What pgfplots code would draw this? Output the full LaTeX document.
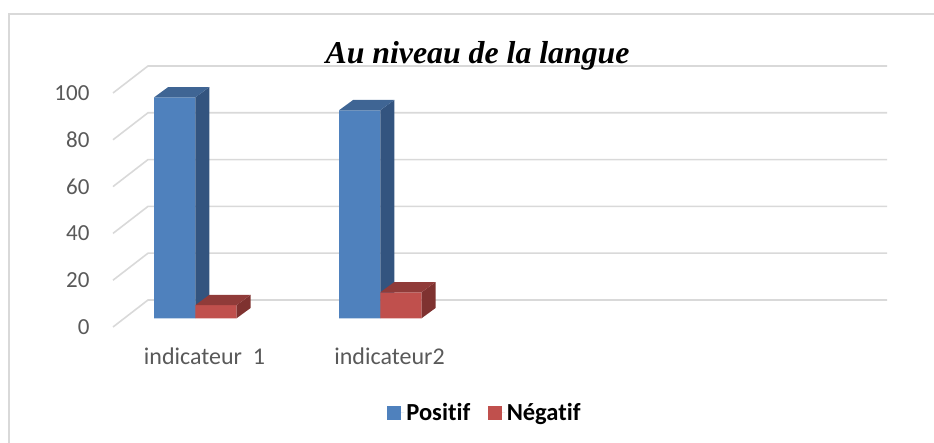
\documentclass[border=0pt]{standalone}
\usepackage{fontspec}
\setmainfont{Carlito}[Ligatures=NoCommon]
\newfontfamily\titlefont{Liberation Serif}
\usepackage{pgfplots}
\usepackage{pgfplotstable}
\pgfplotsset{compat=1.18}

\definecolor{blueF}{HTML}{4F81BD}
\definecolor{blueS}{HTML}{33547F}
\definecolor{blueT}{HTML}{3F6594}
\definecolor{redF}{HTML}{C0504D}
\definecolor{redS}{HTML}{7F3230}
\definecolor{redT}{HTML}{903B39}
\definecolor{gridc}{HTML}{D9D9D9}
\definecolor{labelc}{HTML}{595959}

\pgfplotstableread{
idx Positif Negatif
0   94.4    5.6
1   88.9    11.1
}\niveau

\begin{document}
\begin{tikzpicture}[x=1pt,y=1pt]
    \path[use as bounding box] (0,0) rectangle (934,443);
    % chart frame: only top and left edges show
    \draw[gridc, line width=1.5pt] (9,0) -- (9,429) -- (934,429);
    \begin{axis}[
        at={(113pt,98pt)}, anchor=south west,
        scale only axis,
        width=774pt, height=285pt,
        xmin=-0.4449, xmax=3.739,
        ymin=-11.41, ymax=110.38,
        clip=false,
        axis line style={draw=none},
        major tick length=0pt,
        xtick={0.05,1.05},
        xticklabels={indicateur\ \ 1,indicateur2},
        ytick={-3.72,16.28,36.28,56.28,76.28,96.28},
        yticklabels={0,20,40,60,80,100},
        tick label style={text=labelc},
        yticklabel style={font=\fontsize{23}{23}\selectfont, anchor=east, xshift=-20pt},
        xticklabel style={font=\fontsize{24}{24}\selectfont, anchor=center, yshift=-11pt},
        title={\titlefont\bfseries\itshape\fontsize{31.8}{32}\selectfont Au niveau de la langue},
        title style={at={(0.471,0.966)}, anchor=base, inner sep=0pt},
        legend columns=2,
        legend style={at={(0.4806,-0.2386)}, anchor=center, draw=none, fill=none,
            font=\bfseries\fontsize{24.5}{24.5}\selectfont,
            /tikz/every even column/.append style={column sep=15.5pt}},
        legend image code/.code={
            \fill[#1] (0pt,-7pt) rectangle (14pt,7pt);
            \path (0pt,0pt) -- (17pt,0pt);
        },
    ]
        % walls: back grid with the slanted run to the front
        \pgfplotsinvokeforeach{0,20,40,60,80,100}{
            \draw[gridc, line width=1.6pt]
                (axis cs:-0.4449,#1-3.72) -- (axis cs:-0.2557,#1+7.82) -- (axis cs:3.739,#1+7.82);
        }

        % Positif
        \addplot[ybar, bar width=0.223, bar shift=-0.1115, fill=blueF, draw=none] table[x=idx, y=Positif] {\niveau};
        \addlegendentry{Positif}
        \addplot[fill=blueS, draw=none, forget plot] coordinates {(0,94.4) (0.0757,98.8) (0.0757,4.4) (0,0)};
        \addplot[fill=blueT, draw=none, forget plot] coordinates {(-0.223,94.4) (-0.147,98.8) (0.0757,98.8) (0,94.4)};
        \addplot[fill=blueS, draw=none, forget plot] coordinates {(1,88.9) (1.0757,93.3) (1.0757,4.4) (1,0)};
        \addplot[fill=blueT, draw=none, forget plot] coordinates {(0.777,88.9) (0.853,93.3) (1.0757,93.3) (1,88.9)};

        % Negatif
        \addplot[ybar, bar width=0.223, bar shift=0.1115, fill=redF, draw=none] table[x=idx, y=Negatif] {\niveau};
        \addlegendentry{N\'egatif}
        \addplot[fill=redS, draw=none, forget plot] coordinates {(0.223,5.6) (0.2987,10) (0.2987,4.4) (0.223,0)};
        \addplot[fill=redT, draw=none, forget plot] coordinates {(0,5.6) (0.0757,10) (0.2987,10) (0.223,5.6)};
        \addplot[fill=redS, draw=none, forget plot] coordinates {(1.223,11.1) (1.2987,15.5) (1.2987,4.4) (1.223,0)};
        \addplot[fill=redT, draw=none, forget plot] coordinates {(1,11.1) (1.0757,15.5) (1.2987,15.5) (1.223,11.1)};
    \end{axis}
\end{tikzpicture}
\end{document}
